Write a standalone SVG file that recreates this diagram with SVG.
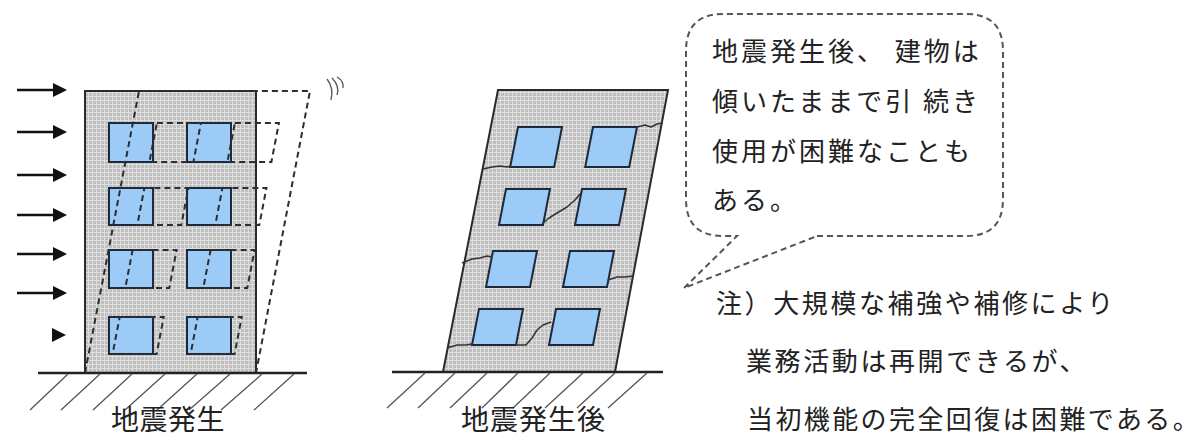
<svg xmlns="http://www.w3.org/2000/svg" width="1200" height="436" viewBox="0 0 1200 436">
  <style>
    .wall { fill: url(#concrete); stroke: #2a2a2a; stroke-width: 2; }
    .win { fill: #9ccbf8; stroke: #1c2a3c; stroke-width: 2; }
    .ghost { fill: none; stroke: #2e2e2e; stroke-width: 2; stroke-dasharray: 6 4; }
    .ground { stroke: #222; stroke-width: 2.5; }
    .hatch { stroke: #555; stroke-width: 1.3; fill: none; }
    .crack { fill: none; stroke: #333; stroke-width: 1.5; stroke-linejoin: round; }
    .force { stroke: #111; stroke-width: 2.5; fill: none; }
    .head { fill: #111; }
    .bubble { fill: #fff; stroke: #555; stroke-width: 2; stroke-dasharray: 6 4; }
    .txt { font-family: "Noto Sans CJK JP", "Noto Sans", sans-serif; fill: #222; }
    .body { font-size: 26px; letter-spacing: 3px; }
    .note { font-size: 26px; letter-spacing: 2.6px; }
    .cap { font-size: 28px; }
  </style>
  <defs>
    <!-- fine light grid over grey for the concrete walls -->
    <pattern id="concrete" width="4" height="4" patternUnits="userSpaceOnUse">
      <rect width="4" height="4" fill="#bfbfbf"/>
      <path d="M0 0.5H4M0.5 0V4" stroke="#dedede" stroke-width="1"/>
    </pattern>
  </defs>

  <!-- lateral seismic forces -->
  <g id="forces">
    <line class="force" x1="17" y1="90" x2="54" y2="90"/>
    <polygon class="head" points="53,83 67,90 53,97"/>
    <line class="force" x1="17" y1="132" x2="54" y2="132"/>
    <polygon class="head" points="53,125 67,132 53,139"/>
    <line class="force" x1="17" y1="175" x2="54" y2="175"/>
    <polygon class="head" points="53,168 67,175 53,182"/>
    <line class="force" x1="17" y1="215" x2="54" y2="215"/>
    <polygon class="head" points="53,208 67,215 53,222"/>
    <line class="force" x1="17" y1="254" x2="54" y2="254"/>
    <polygon class="head" points="53,247 67,254 53,261"/>
    <line class="force" x1="17" y1="293" x2="54" y2="293"/>
    <polygon class="head" points="53,286 67,293 53,300"/>
    <polygon class="head" points="52,328 66,335 52,342"/>
  </g>

  <!-- building during the earthquake -->
  <g id="building1">
    <rect class="wall" x="85" y="91" width="171" height="282"/>
    <rect class="win" x="109" y="123" width="44" height="39"/>
    <rect class="win" x="187" y="123" width="44" height="39"/>
    <rect class="win" x="109" y="188" width="44" height="37"/>
    <rect class="win" x="187" y="188" width="44" height="37"/>
    <rect class="win" x="109" y="250" width="44" height="38"/>
    <rect class="win" x="187" y="250" width="44" height="38"/>
    <rect class="win" x="109" y="317" width="44" height="37"/>
    <rect class="win" x="187" y="317" width="44" height="37"/>
    <!-- swayed position (dashed) -->
    <polygon class="ghost" points="85,373 139,91 310,91 256,373"/>
    <polygon class="ghost" points="156.9,123 200.9,123 193.4,162 149.4,162"/>
    <polygon class="ghost" points="234.9,123 278.9,123 271.4,162 227.4,162"/>
    <polygon class="ghost" points="144.4,188 188.4,188 181.3,225 137.3,225"/>
    <polygon class="ghost" points="222.4,188 266.4,188 259.3,225 215.3,225"/>
    <polygon class="ghost" points="132.6,250 176.6,250 169.3,288 125.3,288"/>
    <polygon class="ghost" points="210.6,250 254.6,250 247.3,288 203.3,288"/>
    <polygon class="ghost" points="119.7,317 163.7,317 156.6,354 112.6,354"/>
    <polygon class="ghost" points="197.7,317 241.7,317 234.6,354 190.6,354"/>
    <!-- shaking marks -->
    <path class="hatch" stroke-width="1.6" d="M327 79Q334 88 331 100M332 78Q340 86 337 95M337 77Q344 81 343 88"/>
    <line class="ground" x1="38" y1="373" x2="307" y2="373"/>
    <path class="hatch" d="M68 374L30 410M100 374L61 410M132 374L93 410M165 374L125 410M197 374L157 410M230 374L189 410M262 374L221 410M294 374L254 410"/>
  </g>

  <!-- building after the earthquake, left leaning -->
  <g id="building2">
    <polygon class="wall" stroke-width="1.6" points="498,90 668,90 615,372 443,372"/>
    <polygon class="win" points="518,127 562,127 554.2,167 510.2,167"/>
    <polygon class="win" points="593,127 637,127 629.2,167 585.2,167"/>
    <polygon class="win" points="506,189 550,189 543,225 499,225"/>
    <polygon class="win" points="582,189 626,189 619,225 575,225"/>
    <polygon class="win" points="493,251 537,251 530,287 486,287"/>
    <polygon class="win" points="570,251 614,251 607,287 563,287"/>
    <polygon class="win" points="479,309 523,309 516,345 472,345"/>
    <polygon class="win" points="556,309 600,309 593,345 549,345"/>
    <!-- cracks -->
    <path class="crack" d="M637 127L645 125L651 127L657 124L663 123"/>
    <path class="crack" d="M483 169L492 167L500 166L507 167L511 166"/>
    <path class="crack" d="M542 224L549 218L557 213L567 207L575 200L580 194"/>
    <path class="crack" d="M462 263L472 259L480 258L487 256L492 257"/>
    <path class="crack" d="M608 280L617 277L625 277L633 276"/>
    <path class="crack" d="M447 348L457 345L466 345L472 344"/>
    <path class="crack" d="M516 345L526 345L532 338L537 330L543 325L551 322"/>
    <line class="ground" x1="392" y1="372" x2="663" y2="372"/>
    <path class="hatch" d="M425 373L387 408M455 373L418 408M487 373L450 408M518 373L482 408M550 373L513 408M583 373L545 408M615 373L577 408M647 373L608 408"/>
  </g>

  <!-- captions -->
  <g id="captions" class="txt cap">
    <text x="111" y="430" letter-spacing="0.5">地震発生</text>
    <text x="461" y="430" letter-spacing="1">地震発生後</text>
  </g>

  <!-- speech balloon -->
  <g id="balloon">
    <path class="bubble" d="M817 236L966 236Q1003 236 1003 199L1003 51Q1003 14 966 14L723 14Q686 14 686 51L686 199Q686 236 723 236L737 236L684 288Z"/>
    <g class="txt body">
      <text x="712" y="61">地震発生後、 建物は</text>
      <text x="712" y="111">傾いたままで引 続き</text>
      <text x="712" y="161">使用が困難なことも</text>
      <text x="712" y="210">ある。</text>
    </g>
  </g>

  <!-- note -->
  <g id="note" class="txt note">
    <text x="716" y="313">注）大規模な補強や補修により</text>
    <text x="746" y="371">業務活動は再開できるが、</text>
    <text x="747" y="429" letter-spacing="2.4px">当初機能の完全回復は困難である。</text>
  </g>
</svg>
